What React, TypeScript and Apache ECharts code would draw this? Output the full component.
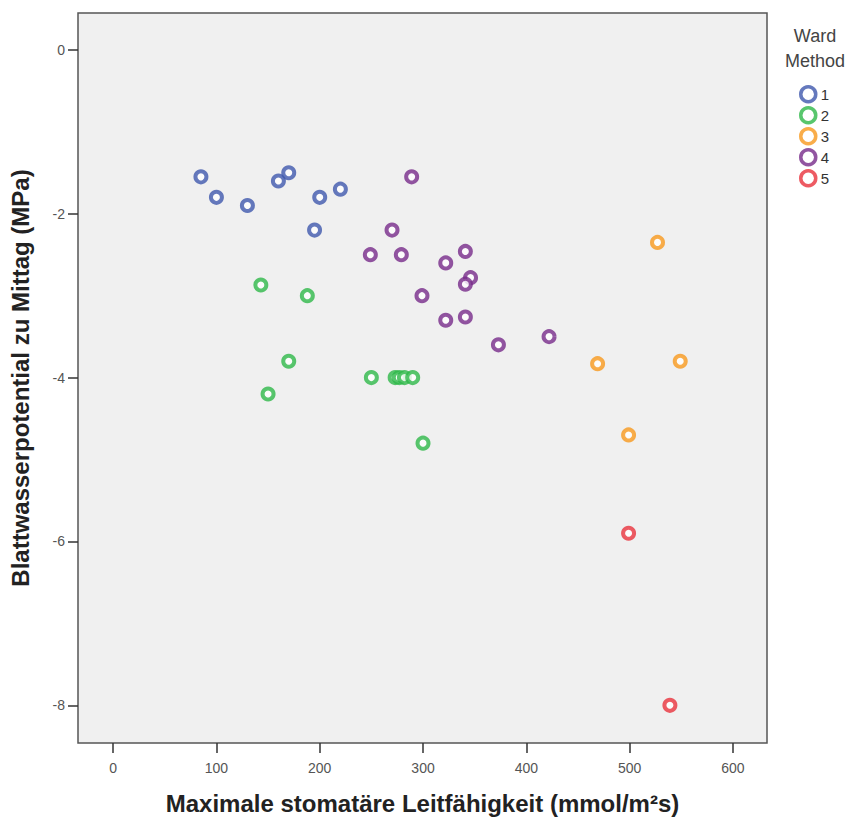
import React, { useEffect, useRef } from "react";
import * as echarts from "echarts";

const clusterNames = ["1", "2", "3", "4", "5"];
const clusterColors = ["#3E58AC", "#2EB848", "#F7981D", "#772A8A", "#E8323C"];

const cluster1: [number, number][] = [
  [85, -1.55], [100, -1.8], [130, -1.9], [160, -1.6], [170, -1.5],
  [200, -1.8], [220, -1.7], [195, -2.2],
];
const cluster2: [number, number][] = [
  [143, -2.87], [188, -3.0], [170, -3.8], [150, -4.2], [250, -4.0],
  [273, -4.0], [277, -4.0], [282, -4.0], [290, -4.0], [300, -4.8],
];
const cluster3: [number, number][] = [
  [527, -2.35], [469, -3.83], [549, -3.8], [499, -4.7],
];
const cluster4: [number, number][] = [
  [289, -1.55], [270, -2.2], [249, -2.5], [279, -2.5], [322, -2.6],
  [341, -2.46], [346, -2.78], [341, -2.86], [299, -3.0], [322, -3.3],
  [341, -3.26], [373, -3.6], [422, -3.5],
];
const cluster5: [number, number][] = [
  [499, -5.9], [539, -8.0],
];

const xTicks = [0, 100, 200, 300, 400, 500, 600];
const yTicks = [-8, -6, -4, -2, 0];

const xTitle = "Maximale stomatäre Leitfähigkeit (mmol/m²s)";
const yTitle = "Blattwasserpotential zu Mittag (MPa)";
const legendTitle = "Ward\nMethod";

export default function App() {
  const ref = useRef<HTMLDivElement>(null);
  useEffect(() => {
    if (!ref.current) return;
    const chart = echarts.init(ref.current, undefined, { renderer: "svg" });
    const data = [cluster1, cluster2, cluster3, cluster4, cluster5];
    const titleFont = "'Liberation Sans', Arial, sans-serif";
    const labelFont = "'Liberation Sans', Arial, sans-serif";
    chart.setOption({
      animation: false,
      backgroundColor: "#ffffff",
      grid: {
        left: 78,
        top: 13,
        width: 689,
        height: 730,
        outerBoundsMode: "none",
        containLabel: false,
        show: true,
        backgroundColor: "#F0F0F0",
        borderColor: "#555555",
        borderWidth: 1.5,
      },
      xAxis: {
        type: "value",
        min: -34,
        max: 633,
        name: xTitle,
        nameLocation: "middle",
        nameGap: 48,
        nameTextStyle: {
          fontFamily: titleFont,
          fontWeight: "bold",
          fontSize: 24,
          color: "#222",
        },
        axisLine: { show: false, onZero: false },
        splitLine: { show: false },
        axisTick: {
          show: true,
          length: 10,
          lineStyle: { color: "#333", width: 1.5 },
          customValues: xTicks,
        },
        axisLabel: {
          customValues: xTicks,
          color: "#555",
          fontSize: 14,
          fontFamily: labelFont,
          margin: 18,
        },
      },
      yAxis: {
        type: "value",
        min: -8.46,
        max: 0.45,
        name: yTitle,
        nameLocation: "middle",
        nameGap: 46,
        nameRotate: 90,
        nameTextStyle: {
          fontFamily: titleFont,
          fontWeight: "bold",
          fontSize: 24,
          color: "#222",
        },
        axisLine: { show: false, onZero: false },
        splitLine: { show: false },
        axisTick: {
          show: true,
          length: 10,
          lineStyle: { color: "#333", width: 1.5 },
          customValues: yTicks,
        },
        axisLabel: {
          customValues: yTicks,
          color: "#555",
          fontSize: 14,
          fontFamily: labelFont,
          margin: 13,
        },
      },
      legend: {
        orient: "vertical",
        left: 799,
        top: 85,
        padding: 0,
        itemWidth: 15,
        itemHeight: 15,
        itemGap: 2.5,
        icon: "circle",
        itemStyle: { borderWidth: 3.5 },
        textStyle: {
          color: "#333",
          fontSize: 15,
          fontFamily: labelFont,
          padding: [0, 0, 0, 0],
        },
        data: clusterNames,
      },
      graphic: [
        {
          type: "text",
          x: 815,
          y: 23,
          style: {
            text: legendTitle,
            align: "center",
            verticalAlign: "top",
            fill: "#444",
            font: "18px 'Liberation Sans', Arial, sans-serif",
            lineHeight: 25,
          },
        },
      ],
      series: clusterNames.map((n, i) => ({
        name: n,
        type: "scatter",
        data: data[i],
        symbol: "circle",
        symbolSize: 11,
        itemStyle: {
          color: "#ffffff",
          borderColor: clusterColors[i],
          borderWidth: 4,
        },
      })),
    });
    return () => chart.dispose();
  }, []);
  return (
    <div
      ref={ref}
      style={{ position: "absolute", left: 0, top: 0, width: 851, height: 820 }}
    />
  );
}
